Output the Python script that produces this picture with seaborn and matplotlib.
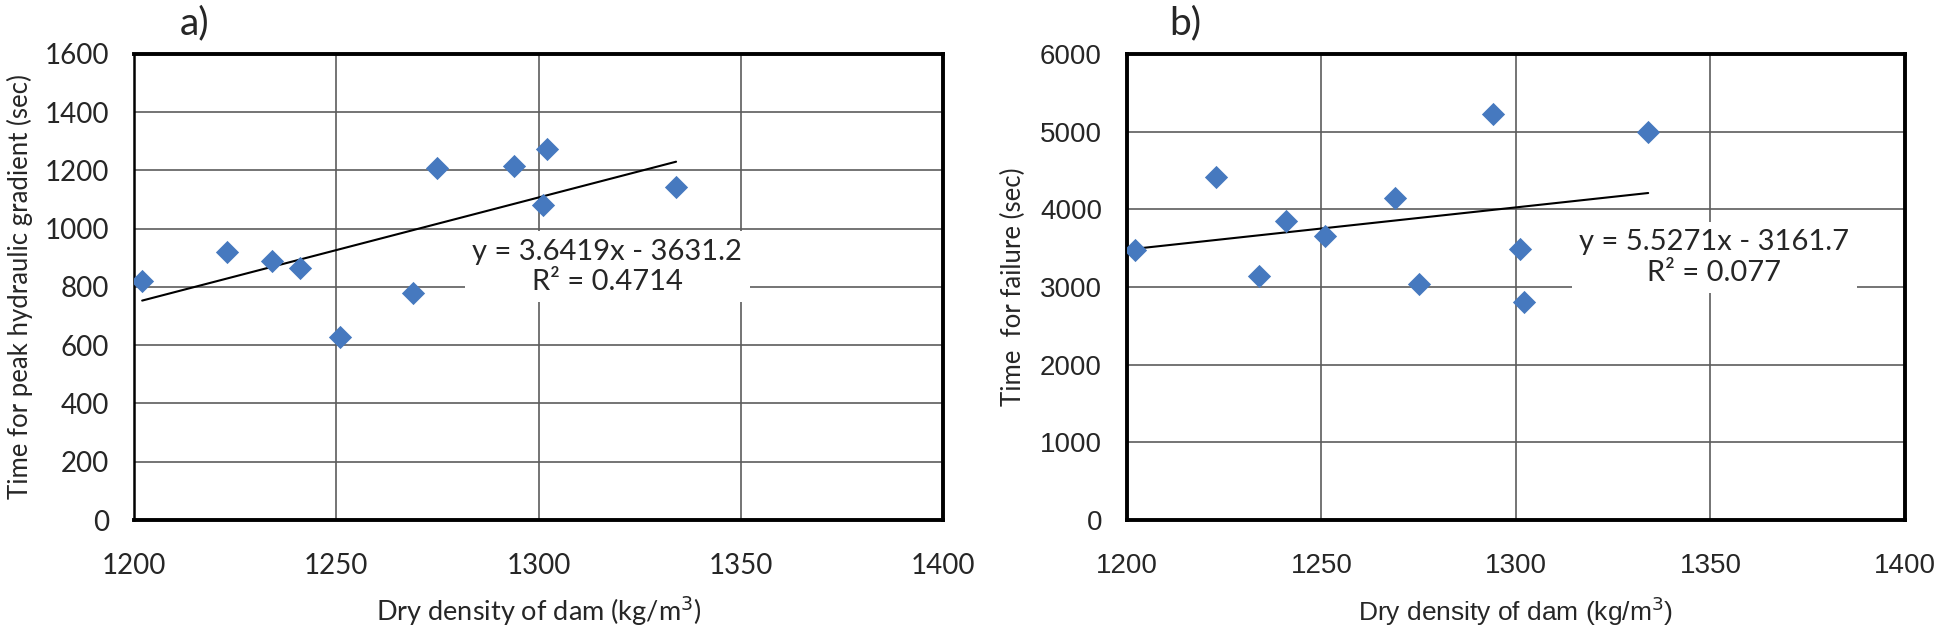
import numpy as np
import pandas as pd
import matplotlib
matplotlib.use("Agg")
import matplotlib.pyplot as plt
import seaborn as sns

# Dry density of the dam samples (kg/m3), same samples in both panels
density = [1202, 1223, 1234, 1241, 1251, 1269, 1275, 1294, 1301, 1302, 1334]
# a) time for peak hydraulic gradient (sec)
t_peak = [820, 920, 890, 865, 630, 780, 1210, 1215, 1080, 1275, 1145]
# b) time for failure (sec)
t_fail = [3470, 4410, 3140, 3850, 3660, 4140, 3040, 5230, 3490, 2810, 5000]

x_ticks = [1200, 1250, 1300, 1350, 1400]
y_ticks_a = [0, 200, 400, 600, 800, 1000, 1200, 1400, 1600]
y_ticks_b = [0, 1000, 2000, 3000, 4000, 5000, 6000]

eq_a = "y = 3.6419x - 3631.2"
r2_a = "R\u00b2 = 0.4714"
eq_b = "y = 5.5271x - 3161.7"
r2_b = "R\u00b2 = 0.077"

sns.set_style("white")
plt.rcParams['font.family'] = ['Lato', 'DejaVu Sans']

blue = "#4679bf"
grid_col = "#5c5c5c"

fig = plt.figure(figsize=(19.46, 6.3), dpi=100)
ax_a = fig.add_axes([0.0689, 0.1746, 0.4157, 0.7397])
ax_b = fig.add_axes([0.5791, 0.1746, 0.3998, 0.7397])


def panel(ax, y, yticks, ylabel, eq, r2, eq_xy, tag, fam, xl_size):
    df = pd.DataFrame({"density": density, "time": y})
    sns.regplot(data=df, x="density", y="time", ax=ax, ci=None, scatter=False,
                truncate=True, line_kws=dict(color="black", lw=1.5, zorder=3))
    sns.scatterplot(data=df, x="density", y="time", ax=ax, marker="D", s=140,
                    color=blue, linewidth=0, zorder=4)
    ax.set_xlim(x_ticks[0], x_ticks[-1])
    ax.set_ylim(yticks[0], yticks[-1])
    ax.set_xticks(x_ticks)
    ax.set_yticks(yticks)
    ax.grid(True, color=grid_col, lw=1.2)
    ax.set_axisbelow(True)
    ax.tick_params(axis="both", length=0, labelsize=20)
    ax.tick_params(axis="x", pad=24)
    ax.tick_params(axis="y", pad=18)
    for lab in ax.get_xticklabels() + ax.get_yticklabels():
        lab.set_family(fam)
    for s in ax.spines.values():
        s.set_visible(True)
        s.set_color("black")
        s.set_linewidth(2.8)
    ax.set_xlabel("Dry density of dam (kg/m$^3$)", fontsize=xl_size, family=fam)
    ax.xaxis.set_label_coords(0.5, -0.16)
    ax.set_ylabel(ylabel, fontsize=18.5)
    ax.text(eq_xy[0], eq_xy[1], eq + "\n" + r2, ha="center", va="center",
            fontsize=21, linespacing=1.2, zorder=2.5,
            bbox=dict(boxstyle="square,pad=0.25", fc="white", ec="none"))
    ax.text(0.075, 1.065, tag, transform=ax.transAxes, ha="center", va="center",
            fontsize=28)


panel(ax_a, t_peak, y_ticks_a, "Time for peak hydraulic gradient (sec)",
      eq_a, r2_a, (1317, 870), "a)", ['Lato', 'DejaVu Sans'], 19.5)
ax_a.spines["left"].set_linewidth(1.8)
ax_a.yaxis.set_label_coords(-0.125, 0.5)

panel(ax_b, t_fail, y_ticks_b, "Time  for failure (sec)",
      eq_b, r2_b, (1351, 3380), "b)", ['Liberation Sans Narrow', 'Liberation Sans'], 19)
ax_b.yaxis.set_label_coords(-0.13, 0.5)

fig.savefig("out.png", dpi=100)
